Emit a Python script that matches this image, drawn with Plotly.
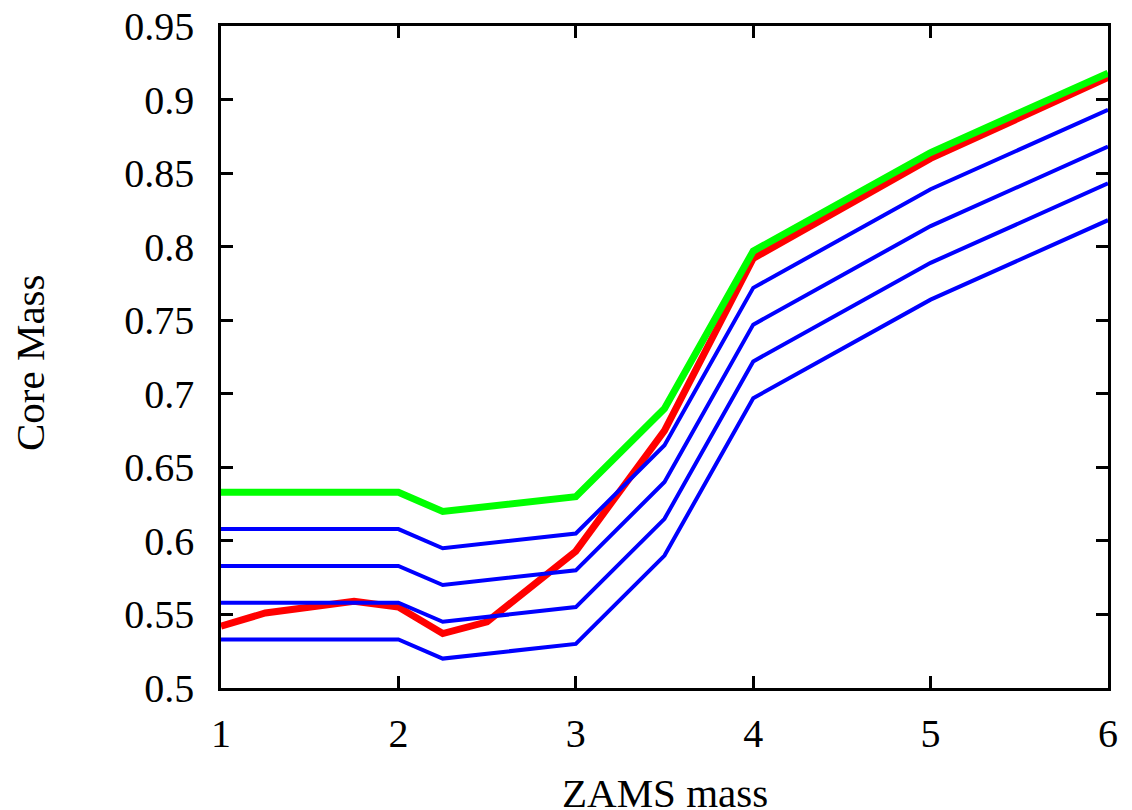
import plotly.graph_objects as go

# ZAMS mass grid of the core-mass tracks
x_blue = [1, 2, 2.25, 3, 3.5, 4, 5, 6]
blue_1 = [0.533, 0.533, 0.520, 0.530, 0.590, 0.697, 0.764, 0.818]
blue_2 = [0.558, 0.558, 0.545, 0.555, 0.615, 0.722, 0.789, 0.843]
blue_3 = [0.583, 0.583, 0.570, 0.580, 0.640, 0.747, 0.814, 0.868]
blue_4 = [0.608, 0.608, 0.595, 0.605, 0.665, 0.772, 0.839, 0.893]

x_green = [1, 2, 2.25, 3, 3.5, 4, 5, 6]
green = [0.633, 0.633, 0.620, 0.630, 0.690, 0.797, 0.864, 0.918]

x_red = [1, 1.25, 1.75, 2, 2.25, 2.5, 3, 3.5, 4, 5, 6]
red = [0.542, 0.551, 0.559, 0.555, 0.537, 0.545, 0.593, 0.675, 0.792, 0.860, 0.915]

x_ticks = [1, 2, 3, 4, 5, 6]
y_ticks = [0.5, 0.55, 0.6, 0.65, 0.7, 0.75, 0.8, 0.85, 0.9, 0.95]
y_tick_text = ["0.5", "0.55", "0.6", "0.65", "0.7", "0.75", "0.8", "0.85", "0.9", "0.95"]

fig = go.Figure()

fig.add_trace(go.Scatter(x=x_red, y=red, mode="lines",
                         line=dict(color="#ff0000", width=7), showlegend=False))
for ys in (blue_1, blue_2, blue_3, blue_4):
    fig.add_trace(go.Scatter(x=x_blue, y=ys, mode="lines",
                             line=dict(color="#0000ff", width=4), showlegend=False))
fig.add_trace(go.Scatter(x=x_green, y=green, mode="lines",
                         line=dict(color="#00ff00", width=7), showlegend=False))

font_family = "Liberation Serif, Times New Roman, serif"

L, R, T, B = 221, 24, 26, 122
W, H = 1132, 810
plot_w, plot_h = W - L - R, H - T - B

fig.update_layout(
    width=W, height=H,
    margin=dict(l=L, r=R, t=T, b=B, autoexpand=False),
    paper_bgcolor="white", plot_bgcolor="white",
    font=dict(family=font_family, size=40, color="black"),
    xaxis=dict(
        range=[1, 6], tickvals=x_ticks, ticktext=[str(v) for v in x_ticks],
        ticks="inside", ticklen=12, tickwidth=2.5, tickcolor="black",
        showline=True, linewidth=2.5, linecolor="black", mirror="ticks",
        showgrid=False, zeroline=False, automargin=False,
        ticklabelstandoff=8,
        tickfont=dict(size=40),
    ),
    yaxis=dict(
        range=[0.5, 0.95], tickvals=y_ticks, ticktext=y_tick_text,
        ticks="inside", ticklen=12, tickwidth=2.5, tickcolor="black",
        showline=True, linewidth=2.5, linecolor="black", mirror="ticks",
        showgrid=False, zeroline=False, automargin=False,
        ticklabelstandoff=16,
        tickfont=dict(size=40),
    ),
    annotations=[
        dict(text="ZAMS mass", xref="paper", yref="paper",
             x=(665 - L) / plot_w, y=(H - B - 793) / plot_h,
             xanchor="center", yanchor="middle", showarrow=False,
             font=dict(size=41)),
        dict(text="Core Mass", xref="paper", yref="paper",
             x=(30 - L) / plot_w, y=(H - B - 363) / plot_h,
             xanchor="center", yanchor="middle", textangle=-90, showarrow=False,
             font=dict(size=41)),
    ],
)

fig.write_html("out.html")
